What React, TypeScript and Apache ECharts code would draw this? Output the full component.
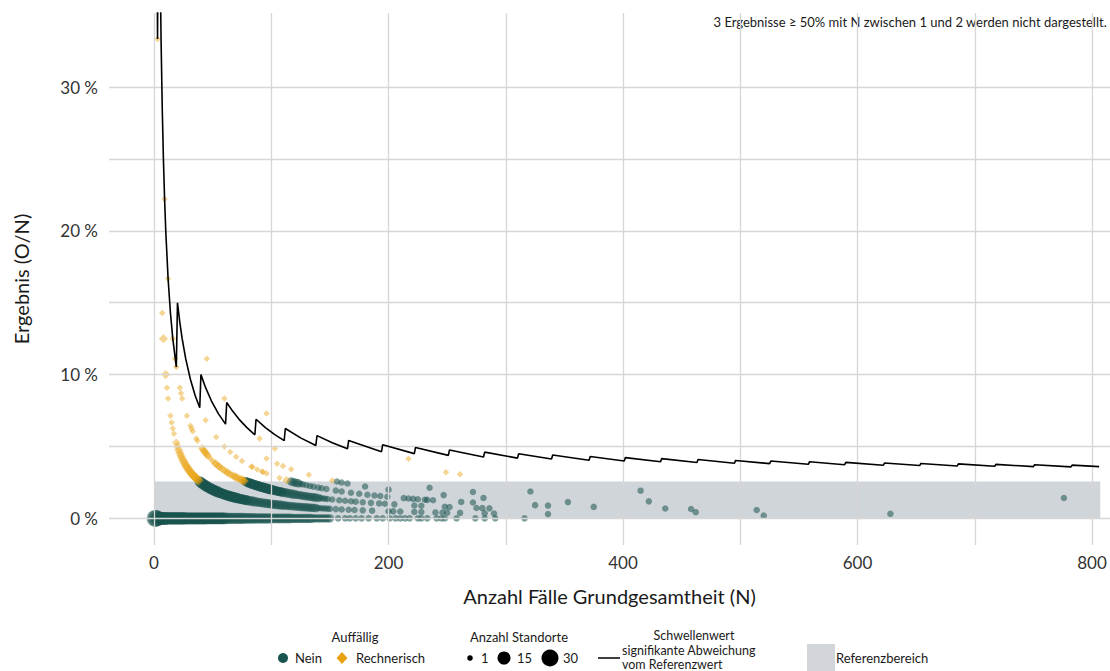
import { useEffect, useRef } from "react";
import * as echarts from "echarts";

// Axis ticks and grid positions
const X_LABELS = [0, 200, 400, 600, 800];
const X_GRID = [0, 100, 200, 300, 400, 500, 600, 700, 800];
const Y_LABELS = [0, 10, 20, 30];
const Y_GRID = [0, 5, 10, 15, 20, 25, 30];

// Reference range (Referenzbereich): 0 % up to this value, drawn over this N span
const REF_UPPER = 2.57;
const REF_N = [0, 807];

// Threshold for a significant deviation: [N, count]; result = count / N
const threshold: [number, number][] = [
  [2, 1], [3, 1], [4, 2], [5, 2], [6, 2], [7, 2], [8, 2], [9, 2], [10, 2], [12, 2], [14, 2], [16, 2], [19, 2],
  [20, 3], [22, 3], [24, 3], [27, 3], [31, 3], [35, 3], [39, 3],
  [40, 4], [44, 4], [49, 4], [55, 4], [61, 4],
  [62, 5], [67, 5], [73, 5], [79, 5], [86, 5],
  [87, 6], [95, 6], [103, 6], [111, 6],
  [112, 7], [125, 7], [138, 7],
  [139, 8], [152, 8], [165, 8],
  [166, 9], [194, 9],
  [195, 10], [222, 10],
  [223, 11], [251, 11],
  [252, 12], [281, 12],
  [282, 13], [310, 13],
  [311, 14], [339, 14],
  [340, 15], [371, 15],
  [372, 16], [401, 16],
  [402, 17], [432, 17],
  [433, 18], [463, 18],
  [464, 19], [495, 19],
  [496, 20], [525, 20],
  [526, 21], [558, 21],
  [559, 22], [589, 22],
  [590, 23], [622, 23],
  [623, 24], [653, 24],
  [654, 25], [685, 25],
  [686, 26], [717, 26],
  [718, 27], [750, 27],
  [751, 28], [782, 28],
  [783, 29], [806, 29],
];

// Sites flagged "Rechnerisch": [N, O, number of sites]
const rechnerisch: [number, number, number][] = [
  [3, 1, 1], [7, 1, 1], [8, 1, 3], [10, 1, 3], [11, 1, 1], [12, 1, 1], [14, 1, 1], [15, 1, 1], [16, 1, 1], [17, 1, 1],
  [19, 1, 2], [20, 1, 2], [21, 1, 3], [22, 1, 3], [23, 1, 3], [24, 1, 3], [25, 1, 4], [26, 1, 3], [27, 1, 4], [28, 1, 4],
  [29, 1, 4], [30, 1, 4], [31, 1, 4], [32, 1, 4], [33, 1, 5], [34, 1, 5], [35, 1, 5], [36, 1, 5], [37, 1, 5], [38, 1, 5],
  [9, 2, 1], [12, 2, 1], [16, 2, 1], [18, 2, 1], [19, 2, 1], [22, 2, 1], [23, 2, 1], [24, 2, 1], [28, 2, 1], [31, 2, 1],
  [32, 2, 1], [33, 2, 1], [36, 2, 1], [37, 2, 1], [41, 2, 2], [42, 2, 2], [43, 2, 2], [44, 2, 2], [45, 2, 2], [46, 2, 2],
  [48, 2, 1], [50, 2, 1], [52, 2, 2], [53, 2, 2], [55, 2, 2], [56, 2, 2], [58, 2, 2], [60, 2, 2], [62, 2, 2], [63, 2, 2],
  [65, 2, 2], [67, 2, 2], [69, 2, 3], [70, 2, 3], [72, 2, 3], [74, 2, 3], [75, 2, 3], [76, 2, 3], [77, 2, 3],
  [44, 3, 1], [53, 3, 1], [60, 3, 1], [65, 3, 1], [70, 3, 1], [75, 3, 1], [83, 3, 1], [84, 3, 1], [88, 3, 1], [92, 3, 1],
  [93, 3, 1], [96, 3, 1], [107, 3, 1], [113, 3, 2],
  [96, 4, 1], [105, 4, 1], [110, 4, 1], [117, 4, 1], [132, 4, 1], [152, 4, 1],
  [45, 5, 1], [60, 5, 1], [90, 5, 1], [103, 5, 1],
  [96, 7, 1],
  [249, 8, 1], [261, 8, 1],
  [217, 9, 1],
];

// Sites not flagged ("Nein"): [N, O, number of sites]
const neinO0: [number, number, number][] = [
  [1, 0, 30], [2, 0, 28], [3, 0, 20], [4, 0, 14], [5, 0, 12], [6, 0, 12], [7, 0, 11], [8, 0, 11], [9, 0, 11], [10, 0, 11],
  [11, 0, 10], [12, 0, 10], [13, 0, 10], [14, 0, 10], [15, 0, 10], [16, 0, 10], [17, 0, 10], [18, 0, 10], [19, 0, 10], [20, 0, 10],
  [21, 0, 10], [22, 0, 10], [23, 0, 10], [24, 0, 10], [25, 0, 10], [26, 0, 10], [27, 0, 9], [28, 0, 9], [29, 0, 9], [30, 0, 9],
  [31, 0, 9], [32, 0, 9], [33, 0, 9], [34, 0, 9], [35, 0, 9], [36, 0, 9], [37, 0, 9], [38, 0, 9], [39, 0, 9], [40, 0, 9],
  [41, 0, 9], [42, 0, 9], [43, 0, 9], [44, 0, 9], [45, 0, 8], [46, 0, 8], [47, 0, 8], [48, 0, 8], [49, 0, 8], [50, 0, 8],
  [51, 0, 8], [52, 0, 8], [53, 0, 8], [54, 0, 8], [55, 0, 8], [56, 0, 8], [57, 0, 8], [58, 0, 8], [59, 0, 8], [60, 0, 8],
  [62, 0, 8], [64, 0, 7], [66, 0, 7], [68, 0, 7], [70, 0, 7], [72, 0, 7], [74, 0, 7], [76, 0, 7], [78, 0, 6], [80, 0, 6],
  [82, 0, 6], [84, 0, 6], [86, 0, 5], [88, 0, 5], [90, 0, 5], [92, 0, 5], [94, 0, 5], [96, 0, 5], [98, 0, 5], [100, 0, 4],
  [102, 0, 4], [104, 0, 4], [106, 0, 4], [108, 0, 4], [110, 0, 4], [112, 0, 4], [114, 0, 4], [116, 0, 4], [118, 0, 3], [120, 0, 3],
  [122, 0, 3], [124, 0, 3], [126, 0, 3], [128, 0, 3], [130, 0, 3], [132, 0, 3], [134, 0, 3], [136, 0, 2], [138, 0, 2], [140, 0, 2],
  [142, 0, 2], [144, 0, 2], [146, 0, 2], [148, 0, 2], [150, 0, 2], [157, 0, 1], [163, 0, 1], [167, 0, 1], [172, 0, 1], [177, 0, 1],
  [183, 0, 1], [190, 0, 1], [195, 0, 1], [201, 0, 1], [206, 0, 1], [210, 0, 1], [214, 0, 1], [218, 0, 1], [225, 0, 1], [228, 0, 1],
  [233, 0, 1], [241, 0, 1], [245, 0, 1], [248, 0, 1], [258, 0, 1], [274, 0, 1], [282, 0, 1], [291, 0, 1], [316, 0, 1],
];

const neinO1: [number, number, number][] = [
  [39, 1, 5], [40, 1, 6], [41, 1, 6], [42, 1, 6], [43, 1, 6], [44, 1, 6], [45, 1, 6], [46, 1, 6], [47, 1, 6], [48, 1, 6],
  [49, 1, 6], [50, 1, 6], [51, 1, 6], [52, 1, 6], [53, 1, 6], [54, 1, 6], [55, 1, 6], [56, 1, 5], [57, 1, 5], [58, 1, 5],
  [59, 1, 5], [60, 1, 5], [61, 1, 5], [62, 1, 5], [63, 1, 5], [64, 1, 5], [65, 1, 5], [66, 1, 5], [67, 1, 5], [68, 1, 5],
  [69, 1, 5], [70, 1, 5], [71, 1, 5], [72, 1, 4], [73, 1, 4], [74, 1, 4], [75, 1, 4], [76, 1, 4], [77, 1, 4], [78, 1, 4],
  [79, 1, 4], [80, 1, 4], [82, 1, 4], [84, 1, 4], [86, 1, 4], [88, 1, 3], [90, 1, 3], [92, 1, 3], [94, 1, 3], [96, 1, 3],
  [98, 1, 3], [100, 1, 3], [102, 1, 3], [104, 1, 3], [106, 1, 3], [108, 1, 3], [110, 1, 3], [112, 1, 2], [114, 1, 2], [116, 1, 2],
  [118, 1, 2], [120, 1, 2], [122, 1, 2], [124, 1, 2], [126, 1, 2], [128, 1, 2], [130, 1, 2], [132, 1, 2], [134, 1, 2], [136, 1, 2],
  [138, 1, 2], [140, 1, 1], [142, 1, 1], [144, 1, 1], [146, 1, 1], [148, 1, 1], [150, 1, 1], [155, 1, 1], [160, 1, 1], [166, 1, 1],
  [171, 1, 1], [178, 1, 1], [186, 1, 1], [200, 1, 1], [204, 1, 1], [210, 1, 1], [222, 1, 1], [228, 1, 1], [240, 1, 1], [246, 1, 1],
  [250, 1, 1], [261, 1, 1], [282, 1, 1], [290, 1, 1], [336, 1, 1], [520, 1, 1],
];

const neinO2: [number, number, number][] = [
  [78, 2, 3], [79, 2, 3], [80, 2, 3], [81, 2, 4], [82, 2, 4], [83, 2, 4], [84, 2, 4], [85, 2, 4], [86, 2, 4], [87, 2, 4],
  [88, 2, 4], [89, 2, 4], [90, 2, 4], [91, 2, 4], [92, 2, 4], [93, 2, 4], [94, 2, 4], [95, 2, 4], [96, 2, 4], [97, 2, 4],
  [98, 2, 4], [99, 2, 4], [100, 2, 4], [101, 2, 3], [102, 2, 3], [103, 2, 3], [104, 2, 3], [105, 2, 3], [106, 2, 3], [107, 2, 3],
  [108, 2, 3], [109, 2, 3], [110, 2, 3], [112, 2, 3], [114, 2, 3], [116, 2, 3], [118, 2, 3], [120, 2, 3], [122, 2, 2], [124, 2, 2],
  [126, 2, 2], [128, 2, 2], [130, 2, 2], [132, 2, 2], [134, 2, 2], [136, 2, 2], [138, 2, 2], [140, 2, 2], [142, 2, 1], [144, 2, 1],
  [146, 2, 1], [148, 2, 1], [152, 2, 1], [158, 2, 1], [163, 2, 1], [168, 2, 1], [172, 2, 1], [178, 2, 1], [185, 2, 1], [192, 2, 1],
  [197, 2, 1], [205, 2, 1], [222, 2, 1], [228, 2, 1], [248, 2, 1], [252, 2, 1], [275, 2, 1], [280, 2, 1], [286, 2, 1], [462, 2, 1],
  [628, 2, 1],
];

const neinHigher: [number, number, number][] = [
  [117, 3, 2], [119, 3, 2], [121, 3, 2], [123, 3, 2], [125, 3, 1], [127, 3, 1], [130, 3, 1], [133, 3, 1], [136, 3, 1], [140, 3, 1],
  [143, 3, 1], [147, 3, 1], [155, 3, 1], [160, 3, 1], [168, 3, 1], [175, 3, 1], [182, 3, 1], [188, 3, 1], [193, 3, 1], [199, 3, 1],
  [213, 3, 1], [217, 3, 1], [221, 3, 1], [225, 3, 1], [231, 3, 1], [233, 3, 1], [238, 3, 1], [262, 3, 1], [272, 3, 1], [325, 3, 1],
  [336, 3, 1], [375, 3, 1], [436, 3, 1], [458, 3, 1], [514, 3, 1],
  [156, 4, 1], [160, 4, 1], [165, 4, 1], [180, 4, 1], [200, 4, 1], [247, 4, 1], [281, 4, 1], [353, 4, 1],
  [235, 5, 1], [272, 5, 1], [422, 5, 1],
  [321, 6, 1],
  [415, 8, 1],
  [776, 11, 1],
];

const NOTE = "3 Ergebnisse ≥ 50% mit N zwischen 1 und 2 werden nicht dargestellt.";

const FONT = "Lato, 'Open Sans', sans-serif";
const GREEN = "#1a544f";
const ORANGE = "#e8a10f";
const TEXT = "#1a1a1a";

const toPoints = (rows: [number, number, number][]) =>
  rows.map(([n, o, sites]) => [n, (o / n) * 100, sites]);

const sizeFor = (sites: number) => 6.5 + 10.5 * Math.sqrt((sites - 1) / 29);

export default function App() {
  const ref = useRef<HTMLDivElement>(null);

  useEffect(() => {
    if (!ref.current) return;
    const chart = echarts.init(ref.current, undefined, { renderer: "svg" });

    const neinAll = [...neinO0, ...neinO1, ...neinO2, ...neinHigher];

    const txt = (x: number, y: number, text: string, align = "left", fontSize = 13) => ({
      type: "text",
      x,
      y,
      style: { text, fontSize, fontFamily: FONT, fill: TEXT, align, verticalAlign: "middle" },
    });

    const legend: any[] = [
      // Auffällig
      txt(355, 637, "Auffällig", "center"),
      { type: "circle", shape: { cx: 283, cy: 658, r: 5 }, style: { fill: GREEN } },
      txt(295, 658, "Nein"),
      { type: "polygon", shape: { points: [[342, 652], [347.5, 658], [342, 664], [336.5, 658]] }, style: { fill: ORANGE } },
      txt(356, 658, "Rechnerisch"),
      // Anzahl Standorte
      txt(519, 637, "Anzahl Standorte", "center"),
      { type: "circle", shape: { cx: 470, cy: 658, r: 2.8 }, style: { fill: "#000" } },
      txt(481, 658, "1"),
      { type: "circle", shape: { cx: 504, cy: 658, r: 6.5 }, style: { fill: "#000" } },
      txt(517, 658, "15"),
      { type: "circle", shape: { cx: 550, cy: 658, r: 8.5 }, style: { fill: "#000" } },
      txt(563, 658, "30"),
      // Schwellenwert
      txt(694, 635.5, "Schwellenwert", "center", 12.5),
      { type: "line", shape: { x1: 598, y1: 658, x2: 620, y2: 658 }, style: { stroke: "#000", lineWidth: 1.5 } },
      txt(622, 650.5, "signifikante Abweichung", "left", 12.5),
      txt(622, 664, "vom Referenzwert", "left", 12.5),
      // Referenzbereich
      { type: "rect", shape: { x: 807, y: 644, width: 28, height: 28 }, style: { fill: "#d2d6da" } },
      txt(836, 658, "Referenzbereich"),
      // Note
      { type: "text", right: 3, top: 15, style: { text: NOTE, fontSize: 13, fontFamily: FONT, fill: TEXT } },
    ];

    chart.setOption({
      animation: false,
      backgroundColor: "#ffffff",
      textStyle: { fontFamily: FONT },
      grid: { left: 109, top: 13, width: 1001, height: 532, containLabel: false },
      xAxis: {
        type: "value",
        min: -38.4,
        max: 815.3,
        name: "Anzahl Fälle Grundgesamtheit (N)",
        nameLocation: "middle",
        nameGap: 41,
        nameTextStyle: { fontSize: 20, fontFamily: FONT, color: TEXT },
        axisLine: { show: false },
        axisTick: { show: false },
        splitLine: { show: false },
        axisLabel: { customValues: X_LABELS, fontSize: 17, fontFamily: FONT, color: "#333", margin: 9 },
      },
      yAxis: {
        type: "value",
        min: -1.85,
        max: 35.15,
        name: "Ergebnis (O/N)",
        nameLocation: "middle",
        nameGap: 78,
        nameRotate: 90,
        nameTextStyle: { fontSize: 20, fontFamily: FONT, color: TEXT },
        axisLine: { show: false },
        axisTick: { show: false },
        splitLine: { show: false },
        axisLabel: { customValues: Y_LABELS, formatter: "{value} %", fontSize: 17, fontFamily: FONT, color: "#333", margin: 11 },
      },
      series: [
        {
          name: "grid",
          type: "line",
          data: [],
          silent: true,
          z: 1,
          markLine: {
            silent: true,
            symbol: ["none", "none"],
            label: { show: false },
            lineStyle: { color: "#d6d6d6", width: 1.3, type: "solid" },
            data: [
              ...X_GRID.map((v) => ({ xAxis: v })),
              ...Y_GRID.map((v) => ({ yAxis: v })),
            ],
          },
        },
        {
          name: "Referenzbereich",
          type: "line",
          data: [],
          silent: true,
          z: 2,
          markArea: {
            silent: true,
            itemStyle: { color: "rgba(112,128,142,0.33)" },
            data: [[{ xAxis: REF_N[0], yAxis: 0 }, { xAxis: REF_N[1], yAxis: REF_UPPER }]],
          },
        },
        {
          name: "Nein",
          type: "scatter",
          z: 3,
          data: toPoints(neinAll),
          symbol: "circle",
          symbolSize: (v: number[]) => sizeFor(v[2]),
          itemStyle: { color: GREEN, opacity: 0.55 },
        },
        {
          name: "Rechnerisch",
          type: "scatter",
          z: 4,
          data: toPoints(rechnerisch),
          symbol: "diamond",
          symbolSize: (v: number[]) => sizeFor(v[2]),
          itemStyle: { color: ORANGE, opacity: 0.45 },
        },
        {
          name: "Schwellenwert",
          type: "line",
          z: 5,
          clip: true,
          showSymbol: false,
          symbol: "none",
          data: threshold.map(([n, k]) => [n, (k / n) * 100]),
          lineStyle: { color: "#000", width: 1.6 },
        },
      ],
      graphic: legend,
    });

    return () => chart.dispose();
  }, []);

  return (
    <div
      ref={ref}
      style={{ position: "absolute", left: 0, top: 0, width: 1110, height: 671, background: "#fff" }}
    />
  );
}
